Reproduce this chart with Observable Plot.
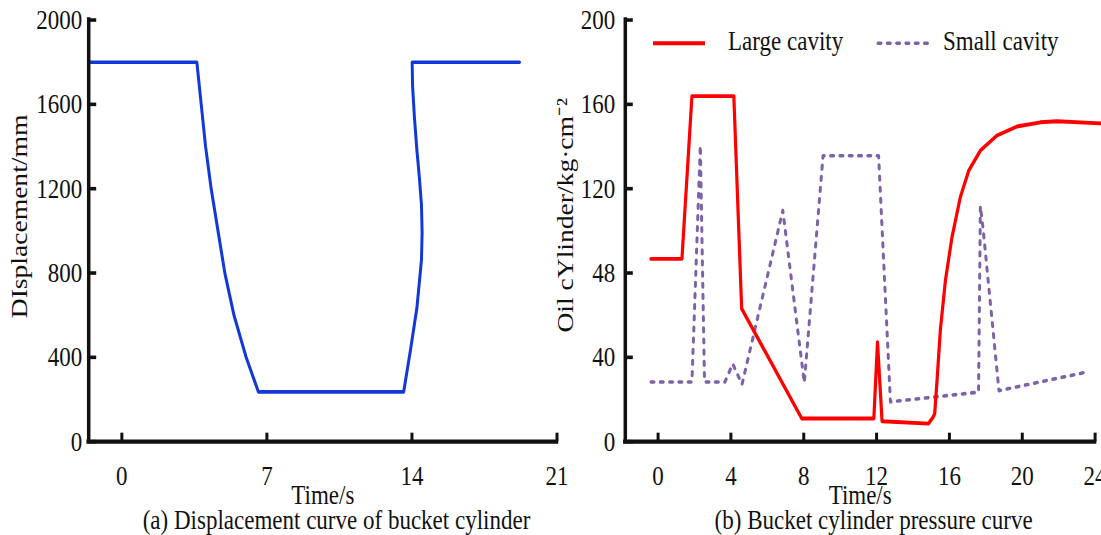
<!DOCTYPE html>
<html>
<head>
<meta charset="utf-8">
<script src="https://cdn.jsdelivr.net/npm/d3@7"></script>
<script src="https://cdn.jsdelivr.net/npm/@observablehq/plot@0.6"></script>
<style>
  html, body { margin: 0; padding: 0; background: #fff; }
  #outer { width: 1101px; height: 535px; overflow: hidden; }
  #stage {
    position: relative; width: 1101px; height: 446px;
    transform: scaleY(1.19955); transform-origin: 0 0;
    font-family: "Liberation Serif", "Times New Roman", serif; color: #111;
  }
  .panel { position: absolute; top: 0; }
  .txt { position: absolute; font-size: 23px; line-height: 26px; white-space: nowrap; }
  .cap { transform: translateX(-50%); }
  .sw { position: absolute; }
</style>
</head>
<body>
<div id="outer"><div id="stage">
  <div id="left" class="panel" style="left:0"></div>
  <div id="right" class="panel" style="left:560px"></div>
  <svg class="sw" style="left:653px;top:33px" width="52" height="6"><line x1="0" x2="52" y1="3" y2="3" stroke="#ff0000" stroke-width="3.4"/></svg>
  <div class="txt" style="left:728px;top:21.6px">Large cavity</div>
  <svg class="sw" style="left:876px;top:33px" width="54" height="6"><line x1="2" x2="52" y1="3" y2="3" stroke="#7d62a6" stroke-width="3" stroke-dasharray="3,6.3" stroke-linecap="round"/></svg>
  <div class="txt" style="left:943px;top:21.6px">Small cavity</div>
  <div class="txt cap" style="left:336.5px;top:421px">(a) Displacement curve of bucket cylinder</div>
  <div class="txt cap" style="left:873.6px;top:421px">(b) Bucket cylinder pressure curve</div>
</div></div>
<script>
// ---------- Panel (a): displacement of bucket cylinder ----------
const dispTime  = [-1.6, 3.62, 3.83, 4.04, 4.31, 4.64, 4.97, 5.41, 6.0, 6.59, 13.6, 13.94, 14.24, 14.46, 14.49, 14.46, 14.36, 14.24, 14.12, 14.03, 14.01, 19.19];
const dispValue = [1800, 1800, 1600, 1400, 1200, 1000, 800, 600, 400, 236, 236, 442, 636, 863, 992, 1122, 1251, 1381, 1537, 1688, 1800, 1800];
const dispXDomain = [-1.6, 21];
const dispXTicks = [0, 7, 14, 21];
const dispYDomain = [0, 2000];
const dispYTicks = [0, 400, 800, 1200, 1600, 2000];
const dispXLabel = "Time/s";
const dispYLabel = "DIsplacement/mm";

// ---------- Panel (b): bucket cylinder pressure ----------
const largeTime  = [-0.39, 1.31, 1.86, 4.16, 4.59, 7.89, 11.85, 12.05, 12.3, 14.85, 15.09, 15.19, 15.32, 15.5, 15.78, 16.14, 16.6, 17.06, 17.7, 18.61, 19.71, 20.99, 21.9, 24.28];
const largeValue = [86.7, 86.7, 163.9, 163.9, 63.1, 11, 11, 47.2, 9.7, 8.6, 11.5, 13.2, 29, 52.8, 76.5, 97, 116, 128.6, 138.1, 145.2, 149.5, 151.5, 152, 151];
const smallTime  = [-0.39, 1.86, 2.32, 2.55, 3.67, 4.1, 4.61, 6.85, 8.03, 9.06, 12.11, 12.76, 17.6, 17.7, 17.86, 18.72, 23.37];
const smallValue = [28.3, 28.3, 140.5, 28.3, 28.3, 36.9, 27.2, 109.7, 28, 135.6, 135.6, 18.9, 23.5, 111.8, 100, 24.2, 32.7];
const presXDomain = [-1.8, 24];
const presXTicks = [0, 4, 8, 12, 16, 20, 24];
const presYDomain = [0, 200];
const presYTicks = [0, 40, 80, 120, 160, 200];
const presYTickLabels = ["0", "40", "48", "120", "160", "200"];
const presXLabel = "Time/s";
const presYLabel = "Oil cYlinder/kg\u00B7cm\u207B\u00B2";
const seriesNames = ["Large cavity", "Small cavity"];

const dispData = dispTime.map((t, i) => ({t, v: dispValue[i]}));
const largeData = largeTime.map((t, i) => ({t, v: largeValue[i], s: seriesNames[0]}));
const smallData = smallTime.map((t, i) => ({t, v: smallValue[i], s: seriesNames[1]}));

const font = "'Liberation Serif', 'Times New Roman', serif";
const common = {
  height: 420, marginTop: 16.2, marginBottom: 52.3,
  style: {fontFamily: font, fontSize: "23px", color: "#111", background: "transparent", overflow: "visible"}
};
const plain = d => String(d);

const left = Plot.plot({
  ...common,
  width: 560, marginLeft: 88.2, marginRight: 3.5,
  x: {domain: dispXDomain},
  y: {domain: dispYDomain},
  marks: [
    Plot.line(dispData, {x: "t", y: "v", stroke: "#1239d6", strokeWidth: 3}),
    Plot.axisX(dispXTicks, {tickSize: -7, tickPadding: 27, strokeWidth: 3, label: null, fontSize: 23, tickFormat: plain}),
    Plot.axisY(dispYTicks, {tickSize: -8, tickPadding: 14.5, strokeWidth: 3, label: null, fontSize: 23, tickFormat: plain}),
    Plot.ruleY([dispYDomain[0]], {strokeWidth: 3.5, strokeLinecap: "square"}),
    Plot.ruleX([dispXDomain[0]], {strokeWidth: 3.5, strokeLinecap: "square"}),
    Plot.text([dispXLabel], {frameAnchor: "bottom", lineAnchor: "middle", textAnchor: "middle", dy: 44.8, fontSize: 23}),
    Plot.text([dispYLabel], {frameAnchor: "left", textAnchor: "middle", lineAnchor: "middle", rotate: -90, dx: -69, dy: -12, fontSize: 23})
  ]
});
document.getElementById("left").appendChild(left);

const right = Plot.plot({
  ...common,
  width: 541, marginLeft: 64.8, marginRight: 6.4,
  x: {domain: presXDomain},
  y: {domain: presYDomain},
  marks: [
    Plot.line(smallData, {x: "t", y: "v", stroke: "#7d62a6", strokeWidth: 3, strokeDasharray: "3,6.3", strokeLinecap: "round"}),
    Plot.line(largeData, {x: "t", y: "v", stroke: "#ff0000", strokeWidth: 3.2}),
    Plot.axisX(presXTicks, {tickSize: -7, tickPadding: 27, strokeWidth: 3, label: null, fontSize: 23, tickFormat: plain}),
    Plot.axisY(presYTicks, {tickSize: -8, tickPadding: 18, strokeWidth: 3, label: null, fontSize: 23,
      tickFormat: d => presYTickLabels[presYTicks.indexOf(d)]}),
    Plot.ruleY([presYDomain[0]], {strokeWidth: 3.5, strokeLinecap: "square"}),
    Plot.ruleX([presXDomain[0]], {strokeWidth: 3.5, strokeLinecap: "square"}),
    Plot.text([presXLabel], {frameAnchor: "bottom", lineAnchor: "middle", textAnchor: "middle", dy: 44.8, fontSize: 23}),
    Plot.text([presYLabel], {frameAnchor: "left", textAnchor: "middle", lineAnchor: "middle", rotate: -90, dx: -60, dy: -13, fontSize: 23})
  ]
});
document.getElementById("right").appendChild(right);
</script>
</body>
</html>
